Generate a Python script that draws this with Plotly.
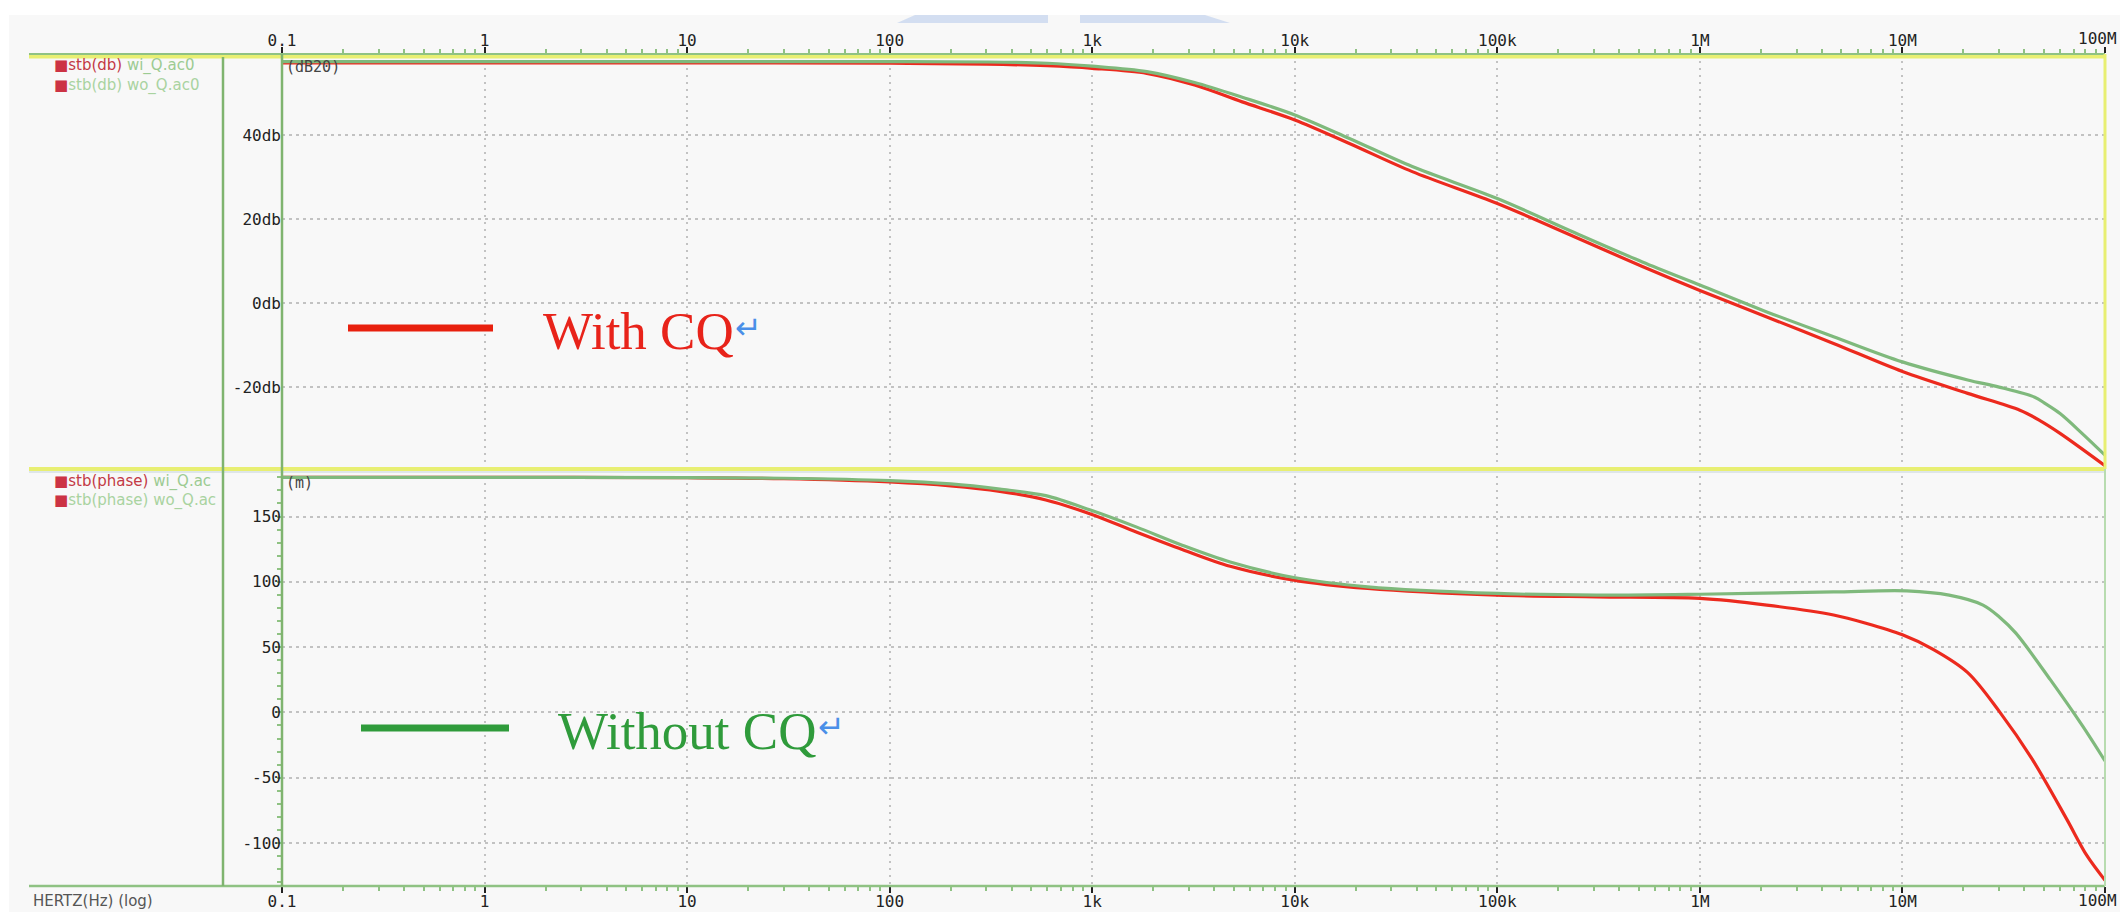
import math
import plotly.graph_objects as go

# ---------------- data ----------------
mag_f_with = [0.1, 1, 10, 100, 300, 600, 1000, 1860, 3200, 5500, 10000, 18600, 38000,
              100000, 240000, 520000, 1e6, 2.14e6, 4.57e6, 1e7, 2.1e7, 3.8e7, 4.75e7, 6e7, 1e8]
mag_db_with = [57.2, 57.2, 57.2, 57.1, 56.9, 56.5, 55.9, 54.7, 51.9, 47.9, 43.6, 38.0, 31.3,
               23.7, 15.8, 8.7, 3.0, -3.3, -9.6, -16.3, -21.5, -25.5, -27.9, -31.0, -38.7]

mag_f_without = [0.1, 1, 10, 100, 300, 600, 1000, 1860, 3200, 5500, 10000, 18600, 38000,
                 100000, 240000, 520000, 1e6, 2.14e6, 4.57e6, 1e7, 2.1e7, 3e7, 4.5e7, 5.1e7, 6e7, 7.7e7, 1e8]
mag_db_without = [57.5, 57.5, 57.5, 57.5, 57.4, 57.1, 56.4, 55.1, 52.5, 49.0, 44.8, 39.2, 32.5,
                  24.9, 16.8, 9.8, 4.3, -2.1, -8.0, -14.0, -18.3, -20.0, -22.4, -24.0, -26.3, -31.0, -36.2]

ph_f_with = [0.1, 1, 10, 30, 100, 200, 350, 590, 980, 1660, 2800, 4800, 9900, 22900,
             100000, 309000, 1e6, 2.14e6, 4.57e6, 6.6e6, 1e7, 1.41e7, 2.1e7, 3.0e7, 4.37e7,
             6.46e7, 8.13e7, 1e8]
ph_deg_with = [180, 180, 179.7, 179, 176.5, 173.5, 169.3, 162.7, 152, 138, 124.6, 111.9, 101.3, 94.9,
               89.8, 88.5, 87.3, 82.2, 74.6, 68.3, 59.4, 48.5, 30.5, 1.0, -35.8,
               -81.5, -109.5, -128.5]

ph_f_without = [0.1, 1, 10, 30, 100, 200, 350, 590, 980, 1660, 2800, 4800, 9900, 22900,
                100000, 309000, 1e6, 4.57e6, 1.05e7, 1.7e7, 2.5e7, 3.0e7, 3.63e7, 5.37e7, 7.76e7, 1e8]
ph_deg_without = [180, 180, 179.8, 179.3, 177.5, 175, 171, 166, 155, 141.9, 127.9, 115.2, 103.3, 96.2,
                  91.1, 89.8, 90.5, 92.3, 93.1, 89.8, 82.2, 73.3, 60.7, 25.1, -10.5, -37.1]

x_tickvals = [0.1, 1, 10, 100, 1e3, 1e4, 1e5, 1e6, 1e7, 1e8]
x_ticktext = ["0.1", "1", "10", "100", "1k", "10k", "100k", "1M", "10M", ""]
x_last_val, x_last_text = 1e8, "100M"   # last decade label, kept inside the page edge
x_minor = [m * d for d in [0.1, 1, 10, 100, 1e3, 1e4, 1e5, 1e6, 1e7] for m in range(2, 10)]

db_tickvals = [40, 20, 0, -20]
db_ticktext = ["40db", "20db", "0db", "-20db"]
ph_tickvals = [150, 100, 50, 0, -50, -100]
ph_ticktext = ["150", "100", "50", "0", "-50", "-100"]
ph_minor = list(range(-130, 190, 10))

# ---------------- layout geometry (pixels) ----------------
W, H = 2120, 912
L, R, T, B = 282, 2105, 54, 886
SPLIT = 469


def px(x):
    return (x - L) / (R - L)


def py(y):
    return (B - y) / (B - T)


RED = "#ec2a1e"
GREEN_CURVE = "#7fb97c"
GREEN_TXT = "#2f9b3b"
FRAME_GREEN = "#8fc283"
YELLOW = "#e8ef72"
TICKFONT = dict(family="DejaVu Sans Mono", size=16, color="#222")
LINE_KW = dict(width=3.2, shape="spline", smoothing=0.9)

fig = go.Figure()

fig.add_trace(go.Scatter(x=mag_f_with, y=mag_db_with, xaxis="x2", yaxis="y2", mode="lines",
                         line=dict(color=RED, **LINE_KW), name="stb(db) wi_Q.ac0", showlegend=False))
fig.add_trace(go.Scatter(x=mag_f_without, y=mag_db_without, xaxis="x2", yaxis="y2", mode="lines",
                         line=dict(color=GREEN_CURVE, **LINE_KW), name="stb(db) wo_Q.ac0", showlegend=False))
fig.add_trace(go.Scatter(x=ph_f_with, y=ph_deg_with, xaxis="x", yaxis="y", mode="lines",
                         line=dict(color=RED, **LINE_KW), name="stb(phase) wi_Q.ac0", showlegend=False))
fig.add_trace(go.Scatter(x=ph_f_without, y=ph_deg_without, xaxis="x", yaxis="y", mode="lines",
                         line=dict(color=GREEN_CURVE, **LINE_KW), name="stb(phase) wo_Q.ac0", showlegend=False))

split_dom = py(SPLIT)

xcommon = dict(type="log", range=[-1.00001, 8.00001], tickmode="array", tickvals=x_tickvals,
               ticktext=x_ticktext, ticks="outside", ticklen=6, tickwidth=2, tickcolor="#222",
               showgrid=True, gridcolor="#c2c2c2", gridwidth=1.5, griddash="2px,5px",
               showline=False, zeroline=False, tickfont=TICKFONT, automargin=False,
               ticklabelstandoff=-5, ticklabeloverflow="allow",
               minor=dict(tickmode="array", tickvals=x_minor, ticks="outside", ticklen=4,
                          tickwidth=1.5, tickcolor=FRAME_GREEN, showgrid=False))

ycommon = dict(tickmode="array", ticks="", showline=False, zeroline=False, showgrid=True,
               gridcolor="#c2c2c2", gridwidth=1.5, griddash="3px,4px", automargin=False,
               tickfont=dict(family="DejaVu Sans Mono", size=16, color="#222"))

fig.update_layout(
    width=W, height=H, autosize=False,
    margin=dict(l=L, r=W - R, t=T, b=H - B, pad=0),
    paper_bgcolor="white", plot_bgcolor="rgba(0,0,0,0)",
    showlegend=False,
    xaxis=dict(anchor="y", side="bottom", **xcommon),
    xaxis2=dict(anchor="y2", side="top", matches="x", **xcommon),
    yaxis=dict(domain=[0, split_dom], range=[-132.9, 186.4], tickvals=ph_tickvals,
               ticktext=ph_ticktext,
               minor=dict(tickmode="array", tickvals=ph_minor, ticks="outside", ticklen=4,
                          tickwidth=1.5, tickcolor=FRAME_GREEN, showgrid=False), **ycommon),
    yaxis2=dict(domain=[split_dom, 1], range=[-39.5, 59.3], tickvals=db_tickvals,
                ticktext=db_ticktext, **ycommon),
)

shapes = []
# grey window background
shapes.append(dict(type="rect", xref="paper", yref="paper", x0=px(9), x1=px(W), y0=py(H), y1=py(15),
                   fillcolor="#f8f8f8", line=dict(width=0), layer="below"))
# blue artefacts at the top edge
shapes.append(dict(type="path", xref="paper", yref="paper", layer="below",
                   path=f"M {px(897)},{py(23)} L {px(915)},{py(15)} L {px(1048)},{py(15)} L {px(1048)},{py(23)} Z",
                   fillcolor="#d3def1", line=dict(width=0)))
shapes.append(dict(type="path", xref="paper", yref="paper", layer="below",
                   path=f"M {px(1080)},{py(23)} L {px(1080)},{py(15)} L {px(1205)},{py(15)} L {px(1230)},{py(23)} Z",
                   fillcolor="#d3def1", line=dict(width=0)))


def hline(x0, x1, y, color, w):
    shapes.append(dict(type="line", xref="paper", yref="paper", x0=px(x0), x1=px(x1),
                       y0=py(y), y1=py(y), line=dict(color=color, width=w)))


def vline(x, y0, y1, color, w):
    shapes.append(dict(type="line", xref="paper", yref="paper", x0=px(x), x1=px(x),
                       y0=py(y0), y1=py(y1), line=dict(color=color, width=w)))


hline(29, R, 56.5, YELLOW, 4)
hline(29, R, 54, FRAME_GREEN, 2)
hline(29, R, 469, YELLOW, 4)
hline(29, R, 472, "#d6e0e4", 1.5)
hline(29, R, 886, FRAME_GREEN, 2.5)
vline(223, 57, 886, "#7fb46f", 2.5)
vline(282, 54, 886, "#7fb46f", 2.5)
vline(2105, 54, 469, YELLOW, 3)
vline(2105, 469, 886, "#b8dcb0", 2)

# legend-style marker lines
shapes.append(dict(type="line", xref="paper", yref="paper", x0=px(348), x1=px(493), y0=py(328), y1=py(328),
                   line=dict(color="#e8200e", width=7)))
shapes.append(dict(type="line", xref="paper", yref="paper", x0=px(361), x1=px(509), y0=py(728), y1=py(728),
                   line=dict(color=GREEN_TXT, width=7)))
fig.update_layout(shapes=shapes)

ann = []


def text(x, y, s, size, color, family="DejaVu Sans", xanchor="left", yanchor="middle"):
    ann.append(dict(xref="paper", yref="paper", x=px(x), y=py(y), text=s, showarrow=False,
                    xanchor=xanchor, yanchor=yanchor,
                    font=dict(family=family, size=size, color=color)))


# last decade label (100M) placed through the x axis (log axis -> log10 position),
# right-aligned so it stays on the page
for xref_name, ylab in (("x2", 39), ("x", 900)):
    ann.append(dict(xref=xref_name, yref="paper", x=math.log10(x_last_val), y=py(ylab),
                    text=x_last_text, showarrow=False, xanchor="right", yanchor="middle",
                    xshift=14, font=TICKFONT))

SQ = "<span style='color:#cc3344'>■</span>"
text(52, 66, SQ + "<span style='color:#c33a45'>stb(db)</span> <span style='color:#9ccb92'>wi_Q.ac0</span>", 15, "#9ccb92")
text(52, 85, SQ + "<span style='color:#a9d3a0'>stb(db) wo_Q.ac0</span>", 15, "#a9d3a0")
text(52, 482, SQ + "<span style='color:#c33a45'>stb(phase)</span> <span style='color:#9ccb92'>wi_Q.ac</span>", 15, "#9ccb92")
text(52, 500, SQ + "<span style='color:#a9d3a0'>stb(phase) wo_Q.ac</span>", 15, "#a9d3a0")
text(284, 67, "(dB20)", 15, "#444", family="DejaVu Sans Mono")
text(284, 483, "(m)", 15, "#444", family="DejaVu Sans Mono")
text(31, 901, "HERTZ(Hz) (log)", 15, "#555")

text(541, 331, "With CQ", 53, "#e8231a", family="Liberation Serif")
text(733, 328, "↵", 32, "#4a8fe8")
text(556, 731, "Without CQ", 53, GREEN_TXT, family="Liberation Serif")
text(816, 727, "↵", 32, "#4a8fe8")

fig.update_layout(annotations=ann)

fig.write_html("out.html", include_plotlyjs=True, full_html=True,
               config={"displayModeBar": False},
               post_script="document.body.style.margin='0';document.body.style.overflow='hidden';")
